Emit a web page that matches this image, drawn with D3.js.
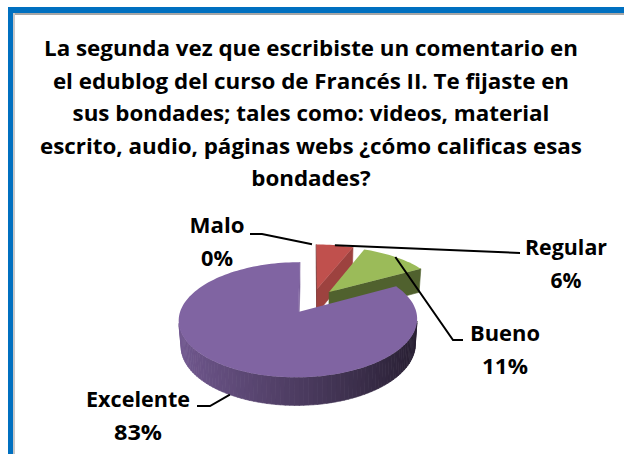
<!DOCTYPE html>
<html><head><meta charset="utf-8">
<script src="https://cdn.jsdelivr.net/npm/d3@7"></script>
<style>html,body{margin:0;padding:0;background:#fff;} svg{display:block}</style>
</head><body>
<svg id="c" width="624" height="454"></svg>
<script>
// ---------- data ----------
const categories = ["Malo", "Regular", "Bueno", "Excelente"];
const values = [0, 6, 11, 83];
const percentLabels = ["0%", "6%", "11%", "83%"];
const titleLines = [
  "La segunda vez que escribiste un comentario en",
  "el edublog del curso de Francés II. Te fijaste en",
  "sus bondades; tales como: videos, material",
  "escrito, audio, páginas webs ¿cómo calificas esas",
  "bondades?"
];
const sliceColors = ["#4F81BD", "#C0504D", "#9BBB59", "#8064A2"];

// ---------- layout ----------
const FONT = "'Open Sans', 'DejaVu Sans', sans-serif";
const P = {cx: 312, cy: 301, W: 115, sinP: 0.466, cosP: 0.885, k: 0.15, h: 0.25, explode: 0.23};
const labelLayout = {
  "Malo":      {x: 217, y: 233, w1: 55, w2: 32, path: [[262, 234], [250, 234]]},
  "Regular":   {x: 566, y: 255, w1: 82, w2: 31, path: [[520, 253]]},
  "Bueno":     {x: 505, y: 341, w1: 70, w2: 46, path: [[453, 340], [463, 340]]},
  "Excelente": {x: 138, y: 407, w1: 104, w2: 48, path: [[210, 406], [197, 406]]}
};
const titleLayout = {x: 311, y0: 56, dy: 32.5, size: 22, line1Width: 534};
const labelSize = 22, labelDy = 33;

const svg = d3.select("#c");

// frame
svg.append("rect").attr("x", 8).attr("y", 7).attr("width", 624).attr("height", 6).attr("fill", "#0070C0");
svg.append("rect").attr("x", 8).attr("y", 7).attr("width", 5).attr("height", 454).attr("fill", "#0070C0");
svg.append("rect").attr("x", 13).attr("y", 13).attr("width", 624).attr("height", 2).attr("fill", "#A6A6A6");
svg.append("rect").attr("x", 13).attr("y", 13).attr("width", 2).attr("height", 454).attr("fill", "#C8C8C8");

// title
const tg = svg.append("g");
const tnodes = tg.selectAll("text").data(titleLines).join("text")
  .attr("x", titleLayout.x)
  .attr("y", (d, i) => titleLayout.y0 + i * titleLayout.dy)
  .attr("text-anchor", "middle")
  .attr("font-family", FONT).attr("font-weight", "bold")
  .attr("font-size", titleLayout.size).attr("fill", "#000")
  .text(d => d);
const natural = tnodes.nodes().map(n => n.getComputedTextLength());
const sc = titleLayout.line1Width / natural[0];
tnodes.attr("textLength", (d, i) => natural[i] * sc).attr("lengthAdjust", "spacingAndGlyphs");

// ---------- 3D pie ----------
function depth(p) { return 1 + P.k * (p[2] * P.cosP - p[1] * P.sinP); }
function proj(p) {
  const d = depth(p);
  return [P.cx + P.W * p[0] / d, P.cy - P.W * (p[1] * P.cosP + p[2] * P.sinP) / d];
}
const cam = [0, P.sinP / P.k, -P.cosP / P.k];
function visible(pt, n) {
  return (cam[0] - pt[0]) * n[0] + (cam[1] - pt[1]) * n[1] + (cam[2] - pt[2]) * n[2] > 0;
}
function shade(c, b) {
  const r = d3.rgb(c);
  return d3.rgb(Math.min(255, r.r * b), Math.min(255, r.g * b), Math.min(255, r.b * b)).toString();
}
const line = d3.line();
function polyPath(pts) { return line(pts.map(proj)) + "Z"; }

const arcs = d3.pie().sort(null).value(d => d).startAngle(0).endAngle(2 * Math.PI)(values);
const H = -P.h;
const slices = arcs.map((a, i) => {
  const mid = (a.startAngle + a.endAngle) / 2;
  return {a, i, mid, ex: P.explode * Math.sin(mid), ez: P.explode * Math.cos(mid)};
});

const pieG = svg.append("g");
slices.filter(s => s.a.value > 0)
  .sort((s1, s2) => s2.ez - s1.ez)
  .forEach(s => {
    const a0 = s.a.startAngle, a1 = s.a.endAngle;
    const rim = (t, y) => [s.ex + Math.sin(t), y, s.ez + Math.cos(t)];
    const apex = y => [s.ex, y, s.ez];
    const base = sliceColors[s.i];
    const faces = [];
    const n = Math.max(2, Math.ceil((a1 - a0) / (Math.PI / 90)));
    for (let j = 0; j < n; j++) {
      const t0 = a0 + (a1 - a0) * j / n, t1 = a0 + (a1 - a0) * (j + 1) / n, tm = (t0 + t1) / 2;
      const nrm = [Math.sin(tm), 0, Math.cos(tm)];
      const c = rim(tm, H / 2);
      if (!visible(c, nrm)) continue;
      const b = 0.6 - 0.3 * Math.sin(tm);
      faces.push({pts: [rim(t0, 0), rim(t1 + 0.002, 0), rim(t1 + 0.002, H), rim(t0, H)], fill: shade(base, b), d: depth(c)});
    }
    [[a0, a0 - Math.PI / 2], [a1, a1 + Math.PI / 2]].forEach(([t, al]) => {
      const nrm = [Math.sin(al), 0, Math.cos(al)];
      const c = [(s.ex + rim(t, 0)[0]) / 2, H / 2, (s.ez + rim(t, 0)[2]) / 2];
      if (!visible(c, nrm)) return;
      let deg = ((al * 180 / Math.PI) % 360 + 360) % 360;
      const b = Math.max(0.45, Math.min(0.95, 0.82 - (deg - 111.6) * 0.0076));
      faces.push({pts: [apex(0), rim(t, 0), rim(t, H), apex(H)], fill: shade(base, b), d: depth(c)});
    });
    faces.sort((f1, f2) => f2.d - f1.d);
    faces.forEach(f => pieG.append("path").attr("d", polyPath(f.pts)).attr("fill", f.fill).attr("stroke", f.fill).attr("stroke-width", 0.6));
    const top = [apex(0)];
    for (let j = 0; j <= n; j++) top.push(rim(a0 + (a1 - a0) * j / n, 0));
    pieG.append("path").attr("d", polyPath(top)).attr("fill", base);
  });

// ---------- labels & leader lines ----------
const lg = svg.append("g");
slices.forEach(s => {
  const name = categories[s.i];
  const L = labelLayout[name];
  const front = Math.cos(s.mid) < 0;
  const start = proj([s.ex + Math.sin(s.mid), front ? H : 0, s.ez + Math.cos(s.mid)]);
  lg.append("path")
    .attr("d", d3.line()([start, ...L.path]))
    .attr("fill", "none").attr("stroke", "#000").attr("stroke-width", 2);
  const t1 = lg.append("text").attr("x", L.x).attr("y", L.y).attr("text-anchor", "middle")
    .attr("font-family", FONT).attr("font-weight", "bold").attr("font-size", labelSize).attr("fill", "#000")
    .text(name).attr("textLength", L.w1).attr("lengthAdjust", "spacingAndGlyphs");
  lg.append("text").attr("x", L.x).attr("y", L.y + labelDy).attr("text-anchor", "middle")
    .attr("font-family", FONT).attr("font-weight", "bold").attr("font-size", labelSize).attr("fill", "#000")
    .text(percentLabels[s.i]).attr("textLength", L.w2).attr("lengthAdjust", "spacingAndGlyphs");
});
</script>
</body></html>
